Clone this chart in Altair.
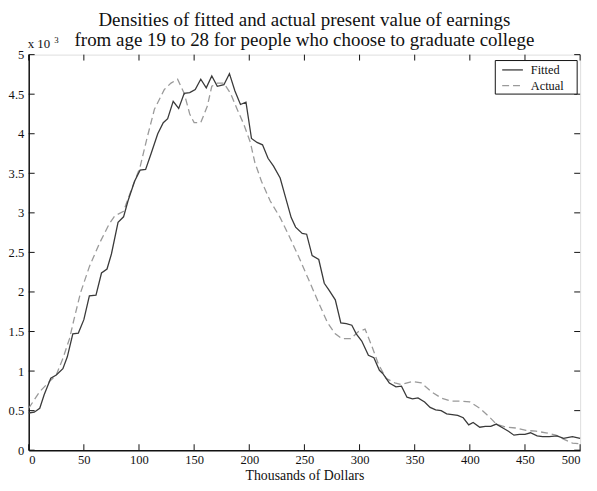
import altair as alt
import pandas as pd

series_names = ["Fitted", "Actual"]

fitted_x = [0, 5, 10, 14, 20, 25, 31, 35, 40, 45, 50, 55, 61, 66, 71, 75, 81, 86, 90, 96,
            101, 106, 111, 117, 122, 126, 131, 136, 141, 146, 151, 156, 161, 166, 171, 177, 182, 187, 192, 197,
            202, 207, 212, 217, 222, 228, 233, 238, 242, 248, 252, 257, 263, 268, 272, 278, 283, 288, 293, 297,
            302, 308, 313, 318, 321, 327, 333, 338, 343, 348, 353, 359, 364, 369, 374, 379, 384, 389, 394, 399,
            403, 409, 414, 419, 424, 430, 435, 440, 445, 450, 455, 461, 466, 472, 479, 485, 493, 500]
fitted_y = [0.47, 0.48, 0.53, 0.70, 0.91, 0.95, 1.03, 1.18, 1.47, 1.48, 1.65, 1.95, 1.96, 2.24, 2.29, 2.48, 2.88, 2.95, 3.15, 3.40,
            3.54, 3.55, 3.75, 4.00, 4.14, 4.19, 4.41, 4.32, 4.51, 4.52, 4.56, 4.69, 4.58, 4.73, 4.60, 4.62, 4.76, 4.54, 4.37, 4.40,
            3.94, 3.89, 3.86, 3.69, 3.59, 3.44, 3.19, 2.94, 2.82, 2.74, 2.73, 2.46, 2.41, 2.11, 2.03, 1.90, 1.61, 1.60, 1.58, 1.47,
            1.38, 1.20, 1.17, 1.01, 0.97, 0.85, 0.80, 0.81, 0.67, 0.65, 0.66, 0.61, 0.54, 0.51, 0.50, 0.46, 0.45, 0.44, 0.41, 0.32,
            0.35, 0.29, 0.30, 0.30, 0.33, 0.28, 0.24, 0.19, 0.20, 0.20, 0.22, 0.18, 0.17, 0.17, 0.18, 0.15, 0.17, 0.15]

actual_x = [0, 10, 19, 25, 31, 37, 41, 47, 55, 64, 73, 78, 86, 93, 101, 107, 114, 123, 129, 135,
            141, 146, 150, 156, 162, 166, 171, 177, 183, 189, 195, 201, 205, 211, 219, 228, 236, 245, 254, 263,
            271, 278, 284, 292, 299, 305, 311, 317, 324, 332, 338, 348, 356, 365, 374, 383, 392, 400, 409, 417,
            424, 433, 442, 451, 460, 469, 478, 485, 493, 500]
actual_y = [0.53, 0.74, 0.87, 0.95, 1.16, 1.41, 1.65, 1.99, 2.32, 2.61, 2.86, 2.96, 3.02, 3.29, 3.58, 3.93, 4.31, 4.56, 4.64, 4.69,
            4.51, 4.25, 4.14, 4.14, 4.35, 4.60, 4.64, 4.64, 4.51, 4.31, 4.12, 3.89, 3.64, 3.40, 3.15, 2.94, 2.71, 2.44, 2.15, 1.86,
            1.61, 1.47, 1.41, 1.41, 1.50, 1.53, 1.32, 1.09, 0.91, 0.85, 0.83, 0.87, 0.85, 0.74, 0.66, 0.62, 0.62, 0.61, 0.53, 0.43,
            0.33, 0.29, 0.28, 0.25, 0.24, 0.22, 0.19, 0.14, 0.09, 0.08]

x_ticks = [0, 50, 100, 150, 200, 250, 300, 350, 400, 450, 500]
y_ticks = [0, 0.5, 1, 1.5, 2, 2.5, 3, 3.5, 4, 4.5, 5]

title_lines = ["Densities of fitted and actual present value of earnings",
               "from age 19 to 28 for people who choose to graduate college"]
x_title = "Thousands of Dollars"

W, H = 559, 401
FONT = "Liberation Serif"
C_FIT = "#3a3a3a"
C_ACT = "#9a9a9a"

fit_df = pd.DataFrame({"x": fitted_x, "y": fitted_y})
act_df = pd.DataFrame({"x": actual_x, "y": actual_y})
xt_df = pd.DataFrame({"t": x_ticks})
yt_df = pd.DataFrame({"t": y_ticks})

xs = alt.Scale(domain=[0, 500], nice=False, zero=False)
ys = alt.Scale(domain=[0, 5], nice=False)

x_axis = alt.Axis(values=x_ticks, title=x_title, ticks=False, tickSize=0, grid=False,
                  labelPadding=4, titlePadding=2, labelFont=FONT, labelFontSize=12.7,
                  titleFont=FONT, titleFontSize=14, titleFontWeight="normal",
                  domainColor="#111", domainWidth=1.5, labelColor="#111", titleColor="#111")
y_axis = alt.Axis(values=y_ticks, title=None, ticks=False, tickSize=0, grid=False, format="~g",
                  labelPadding=5, labelFont=FONT, labelFontSize=12.7,
                  domainColor="#111", domainWidth=1.5, labelColor="#111")

fitted = alt.Chart(fit_df).mark_line(color=C_FIT, strokeWidth=1.3).encode(
    x=alt.X("x:Q", scale=xs, axis=x_axis),
    y=alt.Y("y:Q", scale=ys, axis=y_axis),
)
actual = alt.Chart(act_df).mark_line(color=C_ACT, strokeWidth=1.3, strokeDash=[7, 4]).encode(
    x=alt.X("x:Q", scale=xs),
    y=alt.Y("y:Q", scale=ys),
)

tick_col = "#111"
xb = alt.Chart(xt_df).mark_rule(color=tick_col, strokeWidth=1).encode(
    x=alt.X("t:Q", scale=xs), y=alt.value(H), y2=alt.value(H - 6))
xtp = alt.Chart(xt_df).mark_rule(color=tick_col, strokeWidth=1).encode(
    x=alt.X("t:Q", scale=xs), y=alt.value(0), y2=alt.value(6))
yl = alt.Chart(yt_df).mark_rule(color=tick_col, strokeWidth=1).encode(
    y=alt.Y("t:Q", scale=ys), x=alt.value(0), x2=alt.value(6))
yr = alt.Chart(yt_df).mark_rule(color=tick_col, strokeWidth=1).encode(
    y=alt.Y("t:Q", scale=ys), x=alt.value(W), x2=alt.value(W - 6))

# exponent label
exp_df = pd.DataFrame({"a": ["x 10"], "b": ["3"]})
exp1 = alt.Chart(exp_df).mark_text(font=FONT, fontSize=13, align="left", baseline="alphabetic",
                                   color="#111").encode(
    text="a:N", x=alt.value(-1), y=alt.value(-7))
exp2 = alt.Chart(exp_df).mark_text(font=FONT, fontSize=9, align="left", baseline="alphabetic",
                                   color="#111").encode(
    text="b:N", x=alt.value(26), y=alt.value(-12))

# legend
leg_box = alt.Chart(exp_df).mark_rect(fill="white", stroke="#111", strokeWidth=1).encode(
    x=alt.value(473), x2=alt.value(556), y=alt.value(6), y2=alt.value(40))
leg_l1 = alt.Chart(exp_df).mark_rule(color=C_FIT, strokeWidth=1.3).encode(
    x=alt.value(480), x2=alt.value(501), y=alt.value(15.5))
leg_l2 = alt.Chart(exp_df).mark_rule(color=C_ACT, strokeWidth=1.3, strokeDash=[7, 4]).encode(
    x=alt.value(480), x2=alt.value(501), y=alt.value(31.5))
leg_t1 = alt.Chart(pd.DataFrame({"n": [series_names[0]]})).mark_text(
    font=FONT, fontSize=12.5, align="left", baseline="middle", color="#111").encode(
    text="n:N", x=alt.value(509), y=alt.value(15.5))
leg_t2 = alt.Chart(pd.DataFrame({"n": [series_names[1]]})).mark_text(
    font=FONT, fontSize=12.5, align="left", baseline="middle", color="#111").encode(
    text="n:N", x=alt.value(509), y=alt.value(31.5))

chart = alt.layer(
    actual, fitted, xb, xtp, yl, yr, exp1, exp2, leg_box, leg_l1, leg_l2, leg_t1, leg_t2
).properties(
    width=W, height=H,
    title=alt.TitleParams(text=title_lines, font=FONT, fontSize=19.2, fontWeight="normal",
                          color="#111", anchor="middle", lineHeight=20, offset=6, dy=20),
    autosize=alt.AutoSizeParams(type="none"),
    padding={"left": 21, "top": 44, "right": 9, "bottom": 30},
).configure_view(
    stroke="#111", strokeWidth=1.5
).configure(background="white")

chart.save("out.html", embed_options={"renderer": "svg", "actions": False})
